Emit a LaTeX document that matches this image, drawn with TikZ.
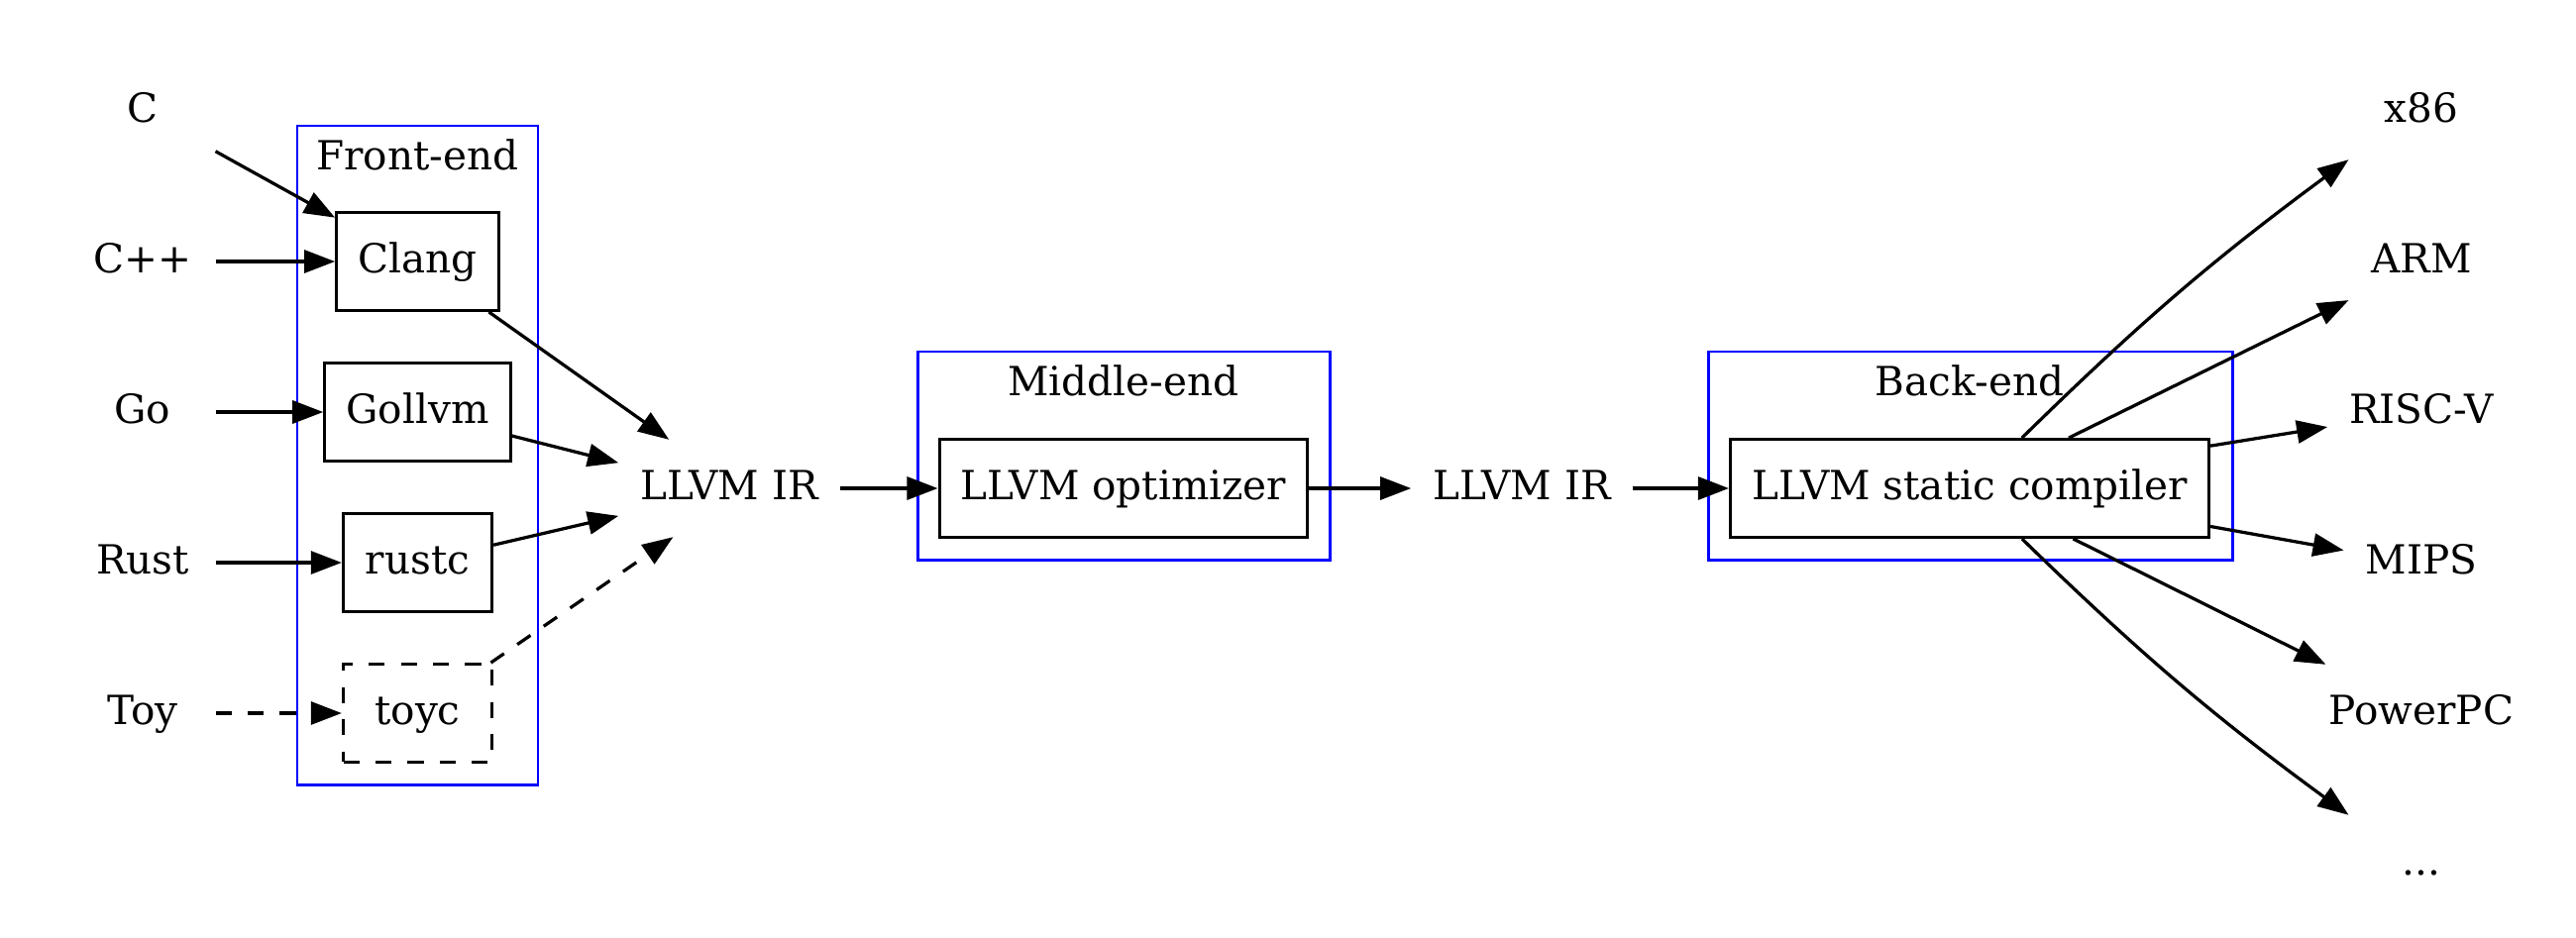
\documentclass[tikz,border=0pt]{standalone}
\usepackage{fontspec}
\setmainfont{DejaVu Serif}
\usepackage{tikz}
\usetikzlibrary{arrows.meta}
\tikzset{
  word/.style={
    font=\fontsize{15pt}{18pt}\selectfont,
    minimum width=54pt,
    minimum height=36pt,
    inner xsep=8pt,
    text height=11.5pt,
    text depth=3pt
  },
  block/.style={
    word,
    draw,
    line width=1.2pt,
    minimum width=55.5pt,
    minimum height=36.5pt
  },
  dblock/.style={block, dash pattern=on 6pt off 6pt},
  cluster/.style={draw=blue, line width=1.1pt},
  arrow/.style={
    line width=1.2pt,
    -{Triangle[length=11.5pt, width=8.5pt]}
  },
  darrow/.style={arrow, dash pattern=on 6pt off 6pt}
}

\begin{document}
\begin{tikzpicture}[x=0.37pt, y=-0.37pt]
  \useasboundingbox (0,0) rectangle (2600,946);

  % Clusters
  \draw[cluster] (300,127) rectangle (543,792);
  \node[word] (fe) at (421.5,160) {Front-end};
  \draw[cluster] (926,355) rectangle (1342,565);
  \node[word] (me) at (1134,388) {Middle-end};
  \draw[cluster] (1724,355) rectangle (2253,565);
  \node[word] (be) at (1988,388) {Back-end};

  % Languages
  \node[word] (c) at (144,112) {C};
  \node[word] (cpp) at (144,264) {C++};
  \node[word] (go) at (144,416) {Go};
  \node[word] (rust) at (144,568) {Rust};
  \node[word] (toy) at (144,720) {Toy};

  % Front-ends
  \node[block] (clang) at (421.5,264) {Clang};
  \node[block] (gollvm) at (421.5,416) {Gollvm};
  \node[block] (rustc) at (421.5,568) {rustc};
  \node[dblock] (toyc) at (421.5,720) {toyc};

  % IR, optimizer, compiler
  \node[word] (ir1) at (736,493) {LLVM IR};
  \node[block] (opt) at (1134,493) {LLVM optimizer};
  \node[word] (ir2) at (1536,493) {LLVM IR};
  \node[block] (llc) at (1988,493) {LLVM static compiler};

  % Targets
  \node[word] (x86) at (2444,112) {x86};
  \node[word] (arm) at (2444,264) {ARM};
  \node[word] (riscv) at (2444,416) {RISC-V};
  \node[word] (mips) at (2444,568) {MIPS};
  \node[word] (ppc) at (2444,720) {PowerPC};
  \node[word] (more) at (2444,872) {...};

  % Edges
  \draw[arrow] (c) -- (clang.152);
  \draw[arrow] (cpp) -- (clang);
  \draw[arrow] (go) -- (gollvm);
  \draw[arrow] (rust) -- (rustc);
  \draw[darrow] (toy) -- (toyc);

  \draw[arrow] (clang) -- (ir1.141);
  \draw[arrow] (gollvm) -- (ir1.167);
  \draw[arrow] (rustc) -- (ir1.194);
  \draw[darrow] (toyc) -- (ir1.221);

  \draw[arrow] (ir1) -- (opt);
  \draw[arrow] (opt) -- (ir2);
  \draw[arrow] (ir2) -- (llc);

  \draw[arrow] (llc.44) to[bend left=4] (x86.south west);
  \draw[arrow] (llc.27) -- (arm.208);
  \draw[arrow] (llc.10) -- (riscv.189);
  \draw[arrow] (llc.-9) -- (mips.171);
  \draw[arrow] (llc.-26) -- (ppc.153);
  \draw[arrow] (llc.-44) to[bend right=4] (more.north west);
\end{tikzpicture}
\end{document}
